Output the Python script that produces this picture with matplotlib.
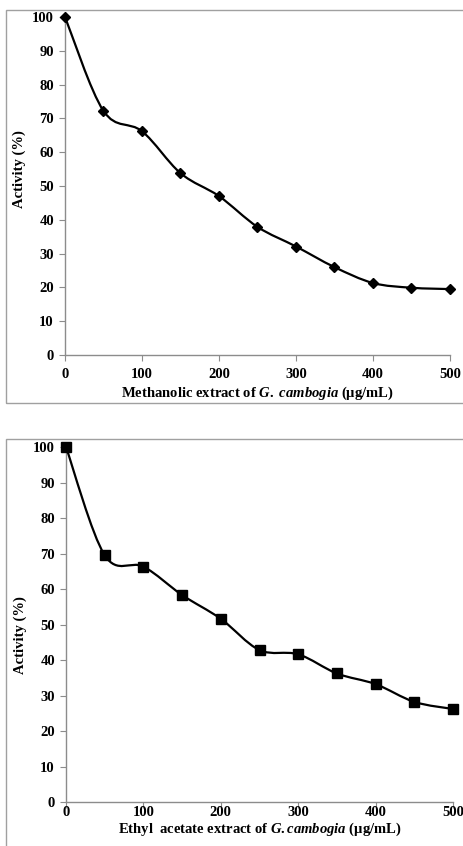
import numpy as np
import matplotlib.pyplot as plt
from matplotlib.path import Path
from matplotlib.patches import PathPatch, Rectangle

plt.rcParams['font.family'] = 'Liberation Serif'
plt.rcParams['font.weight'] = 'bold'
plt.rcParams['mathtext.fontset'] = 'custom'
plt.rcParams['mathtext.it'] = 'Liberation Serif:italic:bold'
plt.rcParams['mathtext.rm'] = 'Liberation Serif:bold'

# data
conc = [0, 50, 100, 150, 200, 250, 300, 350, 400, 450, 500]
methanol = [100, 72.2, 66.2, 53.8, 47, 37.9, 32.1, 26, 21.3, 19.9, 19.5]
ethyl = [100, 69.5, 66.3, 58.3, 51.6, 42.8, 41.6, 36.2, 33.2, 28.2, 26.2]
xticks = [0, 100, 200, 300, 400, 500]
yticks = [0, 10, 20, 30, 40, 50, 60, 70, 80, 90, 100]

W, H = 464, 846
fig = plt.figure(figsize=(W / 100, H / 100), dpi=100)


def smooth_path(x, y):
    # Excel-style smoothed line: cubic Bezier through the points
    x = np.asarray(x, float)
    y = np.asarray(y, float)
    n = len(x)
    verts = [(x[0], y[0])]
    codes = [Path.MOVETO]
    for i in range(n - 1):
        p0 = np.array([x[max(i - 1, 0)], y[max(i - 1, 0)]])
        p1 = np.array([x[i], y[i]])
        p2 = np.array([x[i + 1], y[i + 1]])
        p3 = np.array([x[min(i + 2, n - 1)], y[min(i + 2, n - 1)]])
        c1 = p1 + (p2 - p0) / 6
        c2 = p2 - (p3 - p1) / 6
        verts += [tuple(c1), tuple(c2), tuple(p2)]
        codes += [Path.CURVE4] * 3
    return Path(verts, codes)


def panel(box, axbox, yvals, marker, ms, xlabel, ylab_y, xpad, lpad):
    fig.patches.append(Rectangle((box[0] / W, 1 - box[3] / H),
                                 (box[2] - box[0]) / W, (box[3] - box[1]) / H,
                                 transform=fig.transFigure, fill=False,
                                 edgecolor='#a0a0a0', linewidth=1))
    l, t, r, b = axbox
    ax = fig.add_axes([l / W, 1 - b / H, (r - l) / W, (b - t) / H])
    ax.add_patch(PathPatch(smooth_path(conc, yvals), fill=False,
                           edgecolor='black', linewidth=1.6, zorder=3))
    ax.plot(conc, yvals, linestyle='none', marker=marker, markersize=ms,
            color='black', zorder=4, clip_on=False)
    ax.set_xlim(0, 500)
    ax.set_ylim(0, 100)
    ax.set_xticks(xticks)
    ax.set_yticks(yticks)
    for s in ['top', 'right']:
        ax.spines[s].set_visible(False)
    for s in ['left', 'bottom']:
        ax.spines[s].set_color('#8c8c8c')
        ax.spines[s].set_linewidth(1)
    ax.tick_params(direction='out', length=4, width=0.8, color='#8c8c8c',
                   labelsize=10.5, pad=4)
    ax.tick_params(axis='x', pad=xpad)
    ax.set_xlabel(xlabel, fontsize=10.5, fontweight='bold', labelpad=lpad)
    ax.set_ylabel('Activity (%)', fontsize=10.5, fontweight='bold')
    ax.yaxis.set_label_coords(-39 / (r - l), ylab_y)
    return ax


panel((6, 10, 490, 403), (65, 17, 450, 355), methanol, 'D', 5,
      r'Methanolic extract of $G{.}\ cambogia$ (µg/mL)', 0.55, 5, 3)
panel((6, 439, 490, 870), (66, 447, 453, 802), ethyl, 's', 7,
      r'Ethyl  acetate extract of $G{.}cambogia$ (µg/mL)', 0.47, -1, 1)

plt.savefig('out.png', dpi=100)
